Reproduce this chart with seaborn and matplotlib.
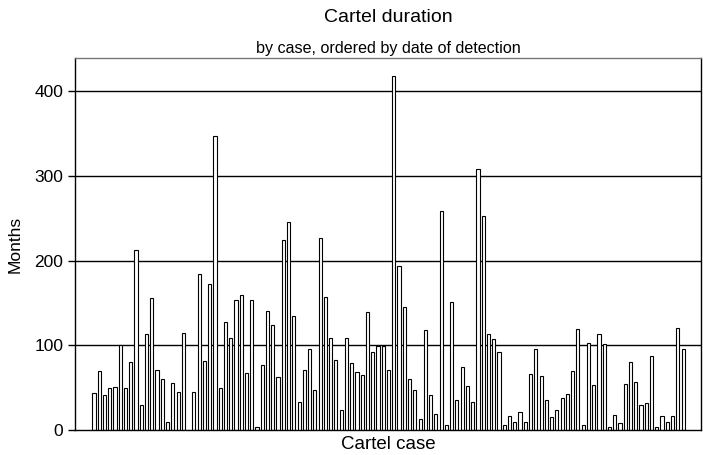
import pandas as pd
import seaborn as sns
import matplotlib.pyplot as plt

# cartel duration in months, one value per case, ordered by date of detection
months = [
    44, 70, 41, 50, 51, 100, 50, 80, 213, 29, 113, 156, 71, 60, 9, 55, 45, 115,
    0, 45, 184, 82, 172,
    347, 50, 127, 109, 153, 159, 67, 154, 3.5, 77, 140, 124, 63, 224, 245, 134,
    33, 71, 96, 47, 226, 157, 108,
    83, 24, 108, 79, 68, 65, 139, 92, 99, 99, 71, 418, 193, 145, 60, 47, 13,
    118, 41, 19, 258, 5.5,
    151, 35, 74, 52, 33, 308, 253, 113, 107, 92, 5.5, 17, 9, 21, 9, 66, 95, 64,
    35, 15, 24, 38, 42,
    70, 119, 6, 103, 53, 113, 102, 3, 18, 8, 54, 80, 57, 30, 32, 87, 4, 16, 9,
    17, 120, 95,
]
cases = list(range(len(months)))

df = pd.DataFrame({"case": cases, "months": months})

sns.set_style("white")
plt.rcParams["font.family"] = ["Liberation Sans", "DejaVu Sans"]
plt.rcParams["text.color"] = "black"
plt.rcParams["axes.labelcolor"] = "black"
plt.rcParams["ytick.color"] = "black"

fig = plt.figure(figsize=(7.03, 4.55), dpi=100)
ax = fig.add_axes([75 / 703, 25 / 455, 626 / 703, 372 / 455])

sns.barplot(data=df, x="case", y="months", color="white", edgecolor="black",
            linewidth=0.8, width=0.6, saturation=1, ax=ax)

ax.set_xlim(-3.6, len(months) - 1 + 3.4)
ax.set_ylim(0, 439)
ax.set_yticks([0, 100, 200, 300, 400])
ax.set_xticks([])
ax.tick_params(axis="y", left=True, length=5, width=1, labelsize=12.5,
               color="black", labelcolor="black")

for y in [100, 200, 300, 400]:
    ax.axhline(y, color="black", linewidth=1, zorder=0)

for s in ax.spines.values():
    s.set_visible(True)
    s.set_color("black")
    s.set_linewidth(1)
ax.spines["top"].set_color("#777777")

ax.set_xlabel("Cartel case", fontsize=13.5, labelpad=4)
ax.set_ylabel("Months", fontsize=12.5, labelpad=8)

fig.text(0.552, 0.962, "Cartel duration", ha="center", va="center", fontsize=14)
fig.text(0.552, 0.893, "by case, ordered by date of detection", ha="center",
         va="center", fontsize=11.6)

fig.savefig("out.png", dpi=100)
